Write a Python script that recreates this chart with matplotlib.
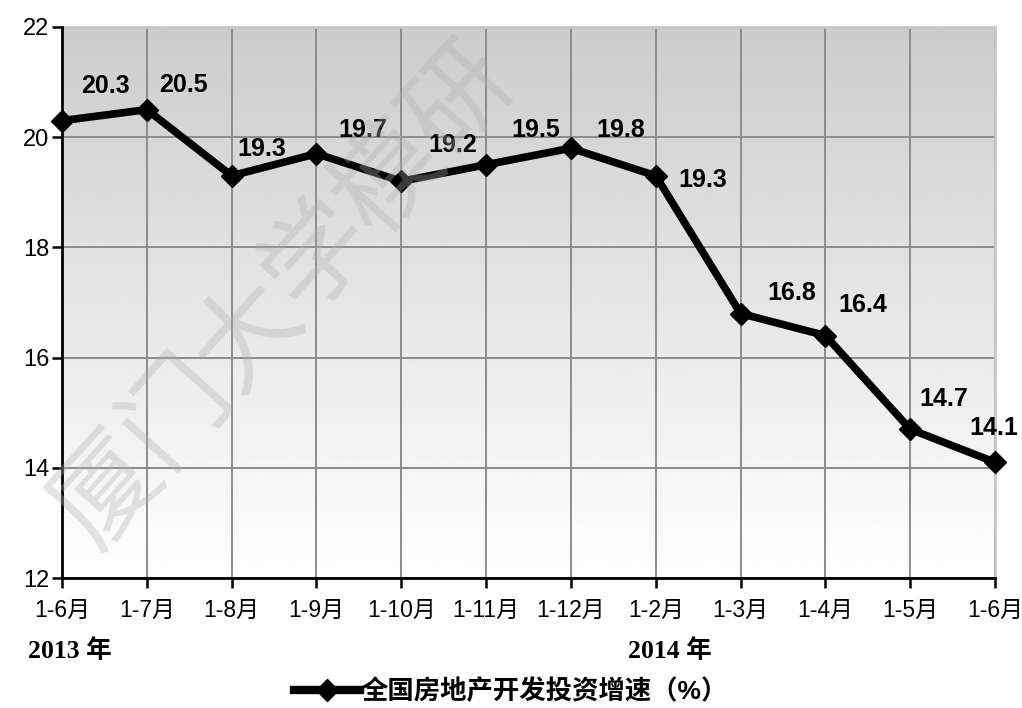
#Line chart of national real estate development investment growth
#with a grey-to-white gradient background

import numpy as np
import matplotlib.pyplot as plt
from matplotlib.lines import Line2D

months = ["1-6月", "1-7月", "1-8月", "1-9月", "1-10月", "1-11月", "1-12月",
          "1-2月", "1-3月", "1-4月", "1-5月", "1-6月"]
growth = [20.3, 20.5, 19.3, 19.7, 19.2, 19.5, 19.8, 19.3, 16.8, 16.4, 14.7, 14.1]
years = ["2013 年", "2014 年"]
series_name = "全国房地产开发投资增速（%）"
watermark = "厦门大学模研"

# label offsets in points (style only)
label_offsets = [(31, 25), (26, 18), (22, 19), (33, 17), (37, 26), (36, 25),
                 (36, 13), (34, -3), (37, 15), (27, 22), (24, 22), (-1, 25)]

cjk = ["Liberation Sans", "Noto Sans CJK SC"]
cjk_serif = ["Liberation Serif", "Noto Sans CJK SC"]

fig = plt.figure(figsize=(10.22, 7.08), dpi=100)
ax = fig.add_axes([0.0607, 0.1836, 0.9129, 0.7783])

x = np.arange(len(months))
ax.set_xlim(0, len(months) - 1)
ax.set_ylim(12, 22)

# gradient background, grey on top to white at the bottom
grad = np.linspace(0.80, 1.0, 256).reshape(-1, 1)
ax.imshow(grad, cmap="gray", vmin=0, vmax=1, aspect="auto", origin="upper",
          extent=[0, 1, 0, 1], transform=ax.transAxes, zorder=0)

ax.set_yticks(np.arange(12, 23, 2))
ax.set_xticks(x)
ax.set_xticklabels(months, family=cjk, fontsize=16.5)
for lab in ax.get_yticklabels():
    lab.set_family(cjk)
    lab.set_fontsize(17)
ax.grid(True, color="#8c8c8c", linewidth=1.4, zorder=1)
ax.set_axisbelow(True)
ax.tick_params(axis="both", direction="out", length=7, width=1.8, color="black")
ax.tick_params(axis="x", pad=8)
ax.tick_params(axis="y", pad=2)

for s in ["left", "bottom"]:
    ax.spines[s].set_linewidth(2)
    ax.spines[s].set_color("black")
    ax.spines[s].set_zorder(5)
for s in ["top", "right"]:
    ax.spines[s].set_color("#c8c8c8")
    ax.spines[s].set_linewidth(2)

ax.plot(x, growth, color="black", linewidth=5.5, marker="D", markersize=11,
        zorder=4, clip_on=False)

for xi, v, off in zip(x, growth, label_offsets):
    ax.annotate(f"{v:.1f}", (xi, v), xytext=off, textcoords="offset points",
                ha="center", va="center", fontsize=18, fontweight="bold",
                family=cjk, zorder=6)

# year labels
fig.text(0.027, 0.070, years[0], fontsize=18.5, fontweight="bold", family=cjk_serif)
fig.text(0.614, 0.070, years[1], fontsize=18.5, fontweight="bold", family=cjk_serif)

# legend
handle = Line2D([], [], color="black", linewidth=6, marker="D", markersize=11)
fig.legend([handle], [series_name], loc="center", bbox_to_anchor=(0.5, 0.024),
           frameon=False, handlelength=2.5, handletextpad=0.05,
           prop={"family": cjk, "weight": "bold", "size": 19})

# faint watermark
fig.text(0.28, 0.58, watermark, fontsize=76, color="#b0b0b0", alpha=0.35,
         rotation=48, ha="center", va="center", family=cjk, zorder=10)

fig.savefig("out.png", dpi=100)
